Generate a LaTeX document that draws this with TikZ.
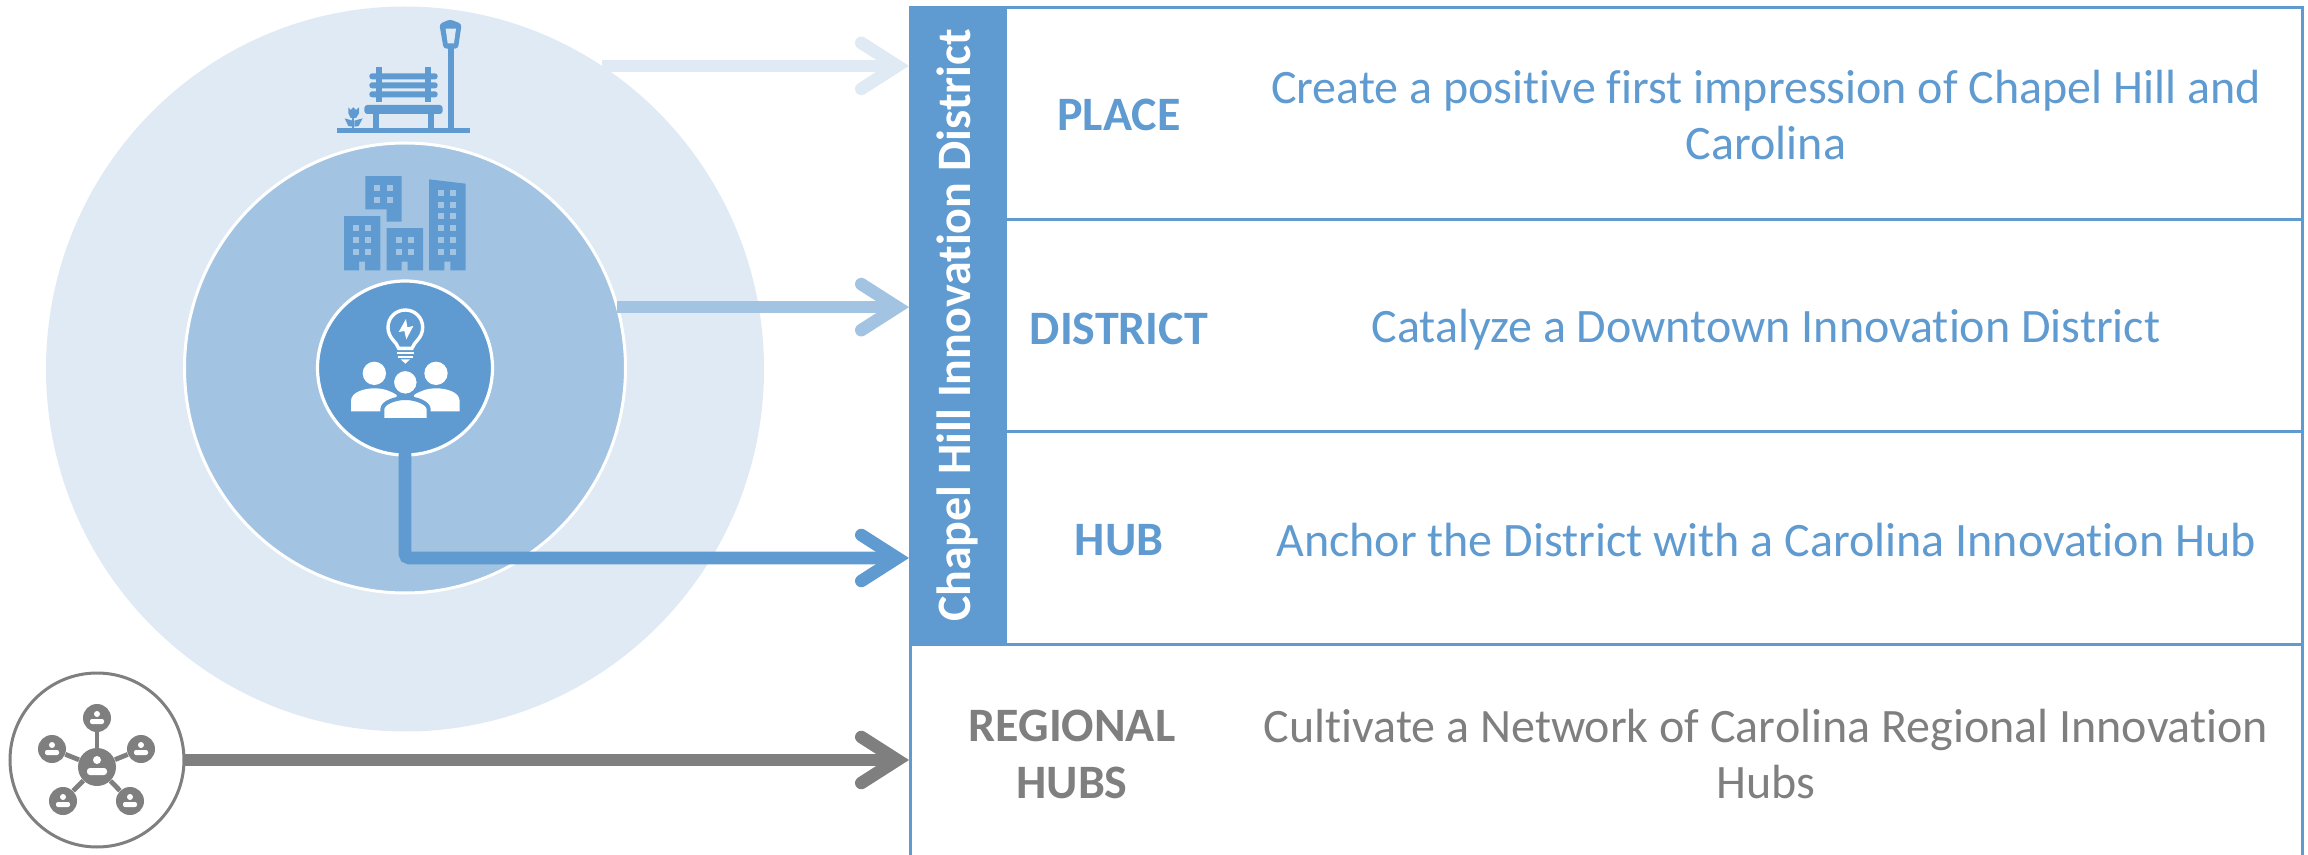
\documentclass[tikz,border=0pt]{standalone}
\usepackage{fontspec}
\setmainfont{Carlito}[Ligatures=NoCommon]
\usetikzlibrary{arrows.meta,positioning,shapes.geometric}
\definecolor{hubblue}{HTML}{5F9BD0}
\definecolor{districtblue}{HTML}{A2C4E2}
\definecolor{placeblue}{HTML}{E0EAF4}
\definecolor{netgrey}{HTML}{7F7F7F}

\begin{document}
\begin{tikzpicture}[x=0.5pt, y=-0.5pt,
    ring/.style={ellipse, inner sep=0pt, outer sep=0pt},
    rowbox/.style={rectangle, draw=hubblue, line width=1.5pt, inner sep=0pt, outer sep=0pt, minimum height=106pt},
    bandbox/.style={rectangle, fill=hubblue, inner sep=0pt, outer sep=0pt, minimum width=48pt, minimum height=319.5pt},
    rowtitle/.style={font=\fontsize{24}{28.5}\selectfont\bfseries, align=center, text=hubblue},
    rowtext/.style={font=\fontsize{24}{28}\selectfont, align=center, text=hubblue},
    link/.style={line width=6.3pt, -{Straight Barb[length=18pt, width=23pt, line cap=round, line join=miter]}},
    netnode/.style={circle, fill=netgrey, inner sep=0pt, minimum size=14pt},
    netlink/.style={netgrey, line width=2.4pt}]
  \useasboundingbox (0,0) rectangle (2308,855);

  \node[rowbox, minimum width=648.5pt, anchor=north west] (placerow) at (1005,8) {};
  \node[rowbox, minimum width=648.5pt] (districtrow) [below=0pt of placerow] {};
  \node[rowbox, minimum width=648.5pt] (hubrow) [below=0pt of districtrow] {};
  \node[rowbox, minimum width=696pt, anchor=north east] (regionalrow) at (hubrow.south east) {};
  \node[bandbox, anchor=north west] (band) at (909,6)
    {\rotatebox{90}{\color{white}\fontsize{24}{27}\selectfont\bfseries Chapel Hill Innovation District}};

  \node[rowtitle] (placetitle) at (1119,115) {PLACE};
  \node[rowtitle] (districttitle) at (1119,329) {DISTRICT};
  \node[rowtitle] (hubtitle) at (1119,540) {HUB};
  \node[rowtitle, text=netgrey] (regionaltitle) at (1072,754) {REGIONAL\\HUBS};
  \node[rowtext] (placetext) at (1766,115) {Create a positive first impression of Chapel Hill and\\Carolina};
  \node[rowtext] (districttext) at (1766,330) {Catalyze a Downtown Innovation District};
  \node[rowtext] (hubtext) at (1766,540) {Anchor the District with a Carolina Innovation Hub};
  \node[rowtext, text=netgrey] (regionaltext) at (1766,754) {Cultivate a Network of Carolina Regional Innovation\\Hubs};

  \node[ring, fill=placeblue, minimum width=359pt, minimum height=362.5pt] (placecircle) at (405,369) {};
  \node[ring, fill=districtblue, draw=white, line width=1.5pt, minimum width=220.5pt, minimum height=225pt] (districtcircle) at (405,368) {};
  \node[ring, fill=hubblue, draw=white, line width=1.6pt, minimum width=87.5pt, minimum height=87pt] (hubcircle) at (405,368) {};
  \node[ring, fill=white, draw=netgrey, line width=1.5pt, minimum width=87pt, minimum height=87pt] (netcircle) at (97,760) {};
  \coordinate (hubtip) at (909,558);

  \draw[link, placeblue] (placecircle.57) -- (band.west |- placecircle.57);
  \draw[link, districtblue] (districtcircle.16) -- (band.west |- districtcircle.16);
  \draw[link, hubblue, rounded corners=2pt, shorten <=-1pt] (hubcircle.south) |- (hubtip);
  \draw[link, netgrey] (netcircle.east) -- (band.west |- netcircle.east);

  \node[netnode, minimum size=19pt] (netcentre) at (97,767) {};
  \fill[white] (97,760) circle (4);
  \fill[white, rounded corners=1.5pt] (87,768) rectangle (107,775);
  \foreach \i/\x/\y in {1/97/718, 2/52/749, 3/141/749, 4/63/801, 5/130/801} {
    \node[netnode] (sat\i) at (\x,\y) {};
    \draw[netlink] (netcentre) -- (sat\i);
    \fill[white] (\x,\y-4) circle (3);
    \fill[white, rounded corners=1pt] (\x-7,\y+1) rectangle (\x+7,\y+6);
  }

  \begin{scope}[shift={(300,0)}, x=0.16667pt, y=-0.16667pt]
    \fill[hubblue] (110,383) rectangle (510,400);
    \fill[hubblue] (443,145) rectangle (462,383);
    \fill[hubblue, rounded corners=1.5pt] (418,72) -- (450,58) -- (485,72) -- (474,146) -- (431,146) -- cycle;
    \fill[placeblue] (437,86) -- (468,86) -- (462,130) -- (443,130) -- cycle;
    \fill[hubblue, rounded corners=1.5pt] (193,315) rectangle (428,342);
    \foreach \x in {220,384} \fill[hubblue] (\x,342) rectangle (\x+18,383);
    \foreach \x in {229,375} \fill[hubblue] (\x,201) rectangle (\x+18,305);
    \foreach \y in {220,247,274} \fill[hubblue, rounded corners=1.4pt] (208,\y) rectangle (413,\y+18);
    \fill[hubblue] (155,350) rectangle (163,383);
    \fill[hubblue] (145,322) -- (152,330) -- (160,322) -- (168,330) -- (177,322) -- (177,340) -- (168,354) -- (152,354) -- (145,340) -- cycle;
    \fill[hubblue] (134,355) -- (158,362) -- (158,380) -- (145,378) -- cycle;
    \fill[hubblue] (188,355) -- (163,362) -- (163,380) -- (176,378) -- cycle;

    \fill[hubblue] (196,528) -- (305,528) -- (305,665) -- (260,665) -- (260,628) -- (196,628) -- cycle;
    \fill[hubblue] (132,648) -- (241,648) -- (241,811) -- (195,811) -- (195,785) -- (177,785) -- (177,811) -- (132,811) -- cycle;
    \fill[hubblue] (260,684) -- (369,684) -- (369,811) -- (323,811) -- (323,785) -- (305,785) -- (305,811) -- (260,811) -- cycle;
    \fill[hubblue] (387,538) -- (497,551) -- (497,811) -- (451,811) -- (451,785) -- (433,785) -- (433,811) -- (387,811) -- cycle;
    \foreach \x/\y in {223/556, 260/556, 223/592, 260/592, 159/675, 195/675, 159/711, 195/711, 159/748, 195/748,
        287/711, 323/711, 287/748, 323/748, 415/570, 451/570, 415/606, 451/606, 415/639, 451/639,
        415/675, 451/675, 415/711, 451/711, 415/748, 451/748}
      \fill[districtblue] (\x,\y) rectangle (\x+18,\y+18);
  \end{scope}

  \begin{scope}[shift={(300,270)}, x=0.16667pt, y=-0.16667pt]
    \draw[white, line width=1.7pt] (296,235) .. controls (290,215) and (264,205) .. (264,172)
      .. controls (264,142) and (288,120) .. (316,120) .. controls (344,120) and (368,142) .. (368,172)
      .. controls (368,205) and (342,215) .. (336,235) -- cycle;
    \fill[white] (318,147) -- (296,186) -- (313,183) -- (319,208) -- (340,168) -- (322,172) -- cycle;
    \fill[white] (290,245) rectangle (342,253);
    \fill[white] (294,257) rectangle (338,263);
    \fill[white] (302,268) -- (330,268) -- (316,281) -- cycle;
    \fill[white] (223,310) circle (35);
    \fill[white] (408,310) circle (35);
    \fill[white] (153,424) -- (153,393) .. controls (153,365) and (195,355) .. (223,355)
      .. controls (250,355) and (270,362) .. (290,375) -- (290,424) -- cycle;
    \fill[white] (479,424) -- (479,393) .. controls (479,365) and (437,355) .. (409,355)
      .. controls (382,355) and (362,362) .. (342,375) -- (342,424) -- cycle;
    \filldraw[fill=white, draw=hubblue, line width=2pt] (247,450) -- (247,418) .. controls (247,398) and (285,384) .. (316,384)
      .. controls (347,384) and (386,398) .. (386,418) -- (386,450) -- cycle;
    \filldraw[fill=white, draw=hubblue, line width=1pt] (316,337) circle (37);
  \end{scope}
\end{tikzpicture}
\end{document}
